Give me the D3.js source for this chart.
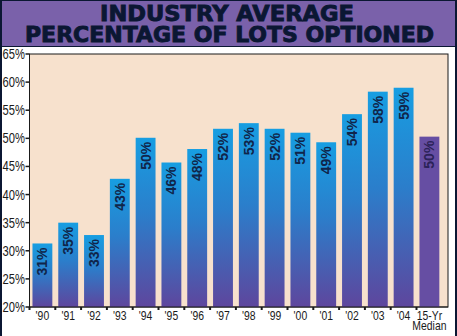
<!DOCTYPE html>
<html>
<head>
<meta charset="utf-8">
<script src="https://cdn.jsdelivr.net/npm/d3@7"></script>
<style>
  body { margin: 0; background: #fff; }
  svg { display: block; }
</style>
</head>
<body>
<svg></svg>
<script>
const width = 457;
const height = 336;

const categories = ["'90", "'91", "'92", "'93", "'94", "'95", "'96", "'97", "'98", "'99", "'00", "'01", "'02", "'03", "'04", "15-Yr|Median"];
const values = [31.3, 35.0, 32.8, 42.8, 50.1, 45.7, 48.1, 51.7, 52.7, 51.7, 51.0, 49.3, 54.3, 58.3, 59.0, 50.3];
const labels = ["31%", "35%", "33%", "43%", "50%", "46%", "48%", "52%", "53%", "52%", "51%", "49%", "54%", "58%", "59%", "50%"];
const yTicks = [20, 25, 30, 35, 40, 45, 50, 55, 60, 65];
const titleLines = ["INDUSTRY AVERAGE", "PERCENTAGE OF LOTS OPTIONED"];

const navy = "#0b1733";
const purple = "#7a61aa";
const peach = "#f7e1cd";
const ink = "#1a1a1a";
const narrow = 0.8; // horizontal squeeze for the condensed axis font

const svg = d3.select("svg")
  .attr("width", width)
  .attr("height", height);

// frame
svg.append("rect").attr("width", width).attr("height", height).attr("fill", navy);
svg.append("rect").attr("x", 2).attr("y", 1).attr("width", 453).attr("height", 45).attr("fill", purple);
svg.append("rect").attr("x", 2).attr("y", 47).attr("width", 453).attr("height", height - 47).attr("fill", "#fff");

// title
svg.selectAll(".title")
  .data(titleLines)
  .join("text")
  .attr("class", "title")
  .attr("x", (d, i) => i === 0 ? 100 : 25)
  .attr("y", (d, i) => i === 0 ? 20.5 : 41.5)
  .attr("textLength", (d, i) => i === 0 ? 254 : 409)
  .attr("lengthAdjust", "spacingAndGlyphs")
  .attr("font-family", "'DejaVu Sans', sans-serif")
  .attr("font-weight", "bold")
  .attr("font-size", 21)
  .attr("fill", navy)
  .attr("stroke", navy)
  .attr("stroke-width", 0.9)
  .text(d => d);

const plot = { left: 29.5, right: 448, top: 54, bottom: 307 };

const x = d3.scaleBand()
  .domain(categories)
  .range([plot.left, plot.left + 16 * 25.8])
  .paddingInner(0.23)
  .paddingOuter(0.115);

const y = d3.scaleLinear()
  .domain([20, 65])
  .range([plot.bottom, plot.top]);

svg.append("rect")
  .attr("x", plot.left)
  .attr("y", plot.top)
  .attr("width", plot.right - plot.left)
  .attr("height", plot.bottom - plot.top)
  .attr("fill", peach)
  .attr("stroke", ink)
  .attr("stroke-width", 1);

const defs = svg.append("defs");
const grad = defs.append("linearGradient")
  .attr("id", "barGrad")
  .attr("x1", 0).attr("y1", 0).attr("x2", 0).attr("y2", 1);
grad.append("stop").attr("offset", "0%").attr("stop-color", "#179ee2");
grad.append("stop").attr("offset", "45%").attr("stop-color", "#2b7ecb");
grad.append("stop").attr("offset", "100%").attr("stop-color", "#5e469d");

const data = categories.map((c, i) => ({ cat: c, value: values[i], label: labels[i], median: i === categories.length - 1 }));

svg.selectAll(".bar")
  .data(data)
  .join("rect")
  .attr("class", "bar")
  .attr("x", d => x(d.cat))
  .attr("y", d => y(d.value))
  .attr("width", x.bandwidth())
  .attr("height", d => y(20) - y(d.value))
  .attr("fill", d => d.median ? "#664ea3" : "url(#barGrad)");

svg.selectAll(".val")
  .data(data)
  .join("text")
  .attr("class", "val")
  .attr("transform", d => `translate(${x(d.cat) + x.bandwidth() / 2 + 5},${y(d.value) + 4}) rotate(-90)`)
  .attr("text-anchor", "end")
  .attr("font-family", "'Liberation Sans', Arial, sans-serif")
  .attr("font-weight", "bold")
  .attr("font-size", 14)
  .attr("fill", d => d.median ? "#2b2258" : "#10254a")
  .text(d => d.label);

// y axis: ticks and squeezed labels
svg.selectAll(".ytick")
  .data(yTicks)
  .join("line")
  .attr("class", "ytick")
  .attr("x1", plot.left - 4)
  .attr("x2", plot.left)
  .attr("y1", d => y(d))
  .attr("y2", d => y(d))
  .attr("stroke", ink)
  .attr("stroke-width", 1.5);

svg.selectAll(".ylab")
  .data(yTicks)
  .join("text")
  .attr("class", "ylab")
  .attr("transform", d => `translate(${plot.left - 4.5},${y(d) + 5}) scale(${narrow},1)`)
  .attr("text-anchor", "end")
  .attr("font-family", "'Liberation Sans', Arial, sans-serif")
  .attr("font-size", 14)
  .attr("fill", ink)
  .text(d => d + "%");

// x axis
svg.append("line")
  .attr("x1", plot.left).attr("x2", plot.right)
  .attr("y1", plot.bottom).attr("y2", plot.bottom)
  .attr("stroke", ink);

svg.selectAll(".xtick")
  .data(categories)
  .join("line")
  .attr("class", "xtick")
  .attr("x1", d => x(d) - x.step() * x.paddingInner() / 2)
  .attr("x2", d => x(d) - x.step() * x.paddingInner() / 2)
  .attr("y1", plot.bottom)
  .attr("y2", plot.bottom + 3)
  .attr("stroke", ink)
  .attr("stroke-width", 2);

const xl = svg.selectAll(".xlab")
  .data(categories)
  .join("text")
  .attr("class", "xlab")
  .attr("transform", d => `translate(${x(d) + x.bandwidth() / 2},319.5) scale(${narrow},1)`)
  .attr("text-anchor", "middle")
  .attr("font-family", "'Liberation Sans', Arial, sans-serif")
  .attr("font-size", 13)
  .attr("fill", ink);

xl.selectAll("tspan")
  .data(d => d.split("|"))
  .join("tspan")
  .attr("x", 0)
  .attr("dy", (d, i) => i === 0 ? 0 : 10)
  .text(d => d);
</script>
</body>
</html>
